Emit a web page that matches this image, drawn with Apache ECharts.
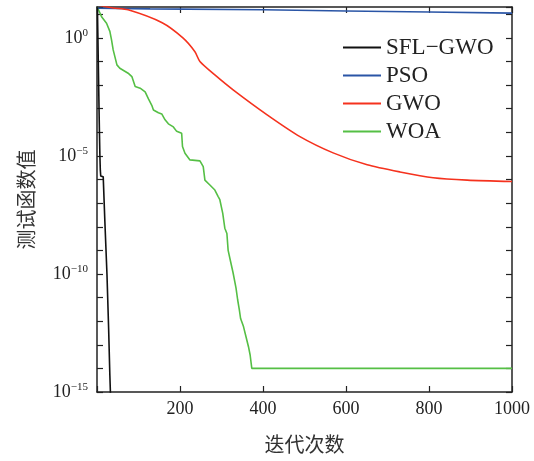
<!DOCTYPE html>
<html><head><meta charset="utf-8">
<script src="https://cdn.jsdelivr.net/npm/echarts@6/dist/echarts.min.js"></script>
<style>html,body{margin:0;padding:0;background:#fff}#c{width:534px;height:461px}</style>
</head><body><div id="c"></div>
<script>
// ---- data (y is the test-function value) ----
const seriesNames = ['SFL\u2212GWO', 'PSO', 'GWO', 'WOA'];

const sflIter = [1, 2, 3, 4, 5, 6, 7, 8, 9, 15, 19, 24, 28, 31, 35, 36];
const sflVal  = [20, 1.6, 0.13, 1e-2, 8e-4, 8e-5, 1e-5, 2.5e-6, 1.4e-6, 1.3e-6, 1.6e-8, 1e-10, 5e-13, 5e-15, 4.5e-15, 1e-17];

const psoIter = [1, 128, 400, 600, 800, 1000];
const psoVal  = [18.2, 17, 15.5, 13.8, 12.6, 11.2];

const gwoIter = [1, 39, 75, 157, 207, 236, 248, 284, 328, 410, 489, 569, 651, 730, 810, 892, 1000];
const gwoVal  = [25, 18.6, 15.5, 4.4, 1, 0.26, 0.1, 0.027, 6.3e-3, 5.5e-4, 6.6e-5, 1.35e-5, 4.2e-6, 2.1e-6, 1.2e-6, 9.5e-7, 8.3e-7];

const woaIter = [1, 5, 11, 23, 31, 35, 39, 48, 55, 75, 84, 92, 104, 116, 124, 132, 136, 148, 156, 164, 172, 184, 192, 204, 206, 212, 224, 248, 256, 260, 272, 284, 292, 296, 303, 308, 313, 316, 322, 328, 335, 339, 343, 346, 353, 358, 365, 369, 373, 1000];
const woaVal  = [20, 18, 7.9, 4.2, 1.9, 0.83, 0.31, 0.072, 0.052, 0.032, 0.023, 8.7e-3, 7.4e-3, 5.2e-3, 2.6e-3, 1.4e-3, 8.9e-4, 6.8e-4, 6.0e-4, 3.4e-4, 2.3e-4, 1.7e-4, 1.1e-4, 9.1e-5, 2.5e-5, 1.3e-5, 6.8e-6, 6.2e-6, 3.5e-6, 9.5e-7, 5.9e-7, 3.6e-7, 1.9e-7, 1.4e-7, 3.7e-8, 8.7e-9, 5.2e-9, 1.0e-9, 3.3e-10, 1.1e-10, 2.5e-11, 7.9e-12, 3.0e-12, 1.3e-12, 5.9e-13, 2.6e-13, 8.3e-14, 3.7e-14, 1.0e-14, 1.0e-14];

const xTickValues = [200, 400, 600, 800, 1000];
const yLabelExponents = [0, -5, -10, -15];
const yMinExp = -15, yMaxExp = 1.31;

const colors = ['#111111', '#2a55a6', '#f5321e', '#55bf45'];

// ---- build ----
const serif = 'Liberation Serif, Times New Roman, serif';
const cjk = 'Noto Sans CJK SC, sans-serif';
const toPts = (xs, vs) => xs.map((x, i) => [x, Math.log10(vs[i])]);
const allData = [toPts(sflIter, sflVal), toPts(psoIter, psoVal), toPts(gwoIter, gwoVal), toPts(woaIter, woaVal)];

const axisLineStyle = { color: '#222', width: 1.5 };
const tickStyle = { color: '#222', width: 1.2 };

const chart = echarts.init(document.getElementById('c'), null, { renderer: 'canvas' });
chart.setOption({
  animation: false,
  backgroundColor: '#fff',
  grid: { left: 97, right: 22, top: 7, bottom: 69, containLabel: false },
  legend: {
    orient: 'vertical', left: 338, top: 31,
    icon: 'rect', itemWidth: 38, itemHeight: 2, itemGap: 5,
    textStyle: { fontFamily: serif, fontSize: 23, lineHeight: 22, color: '#222' },
    data: seriesNames
  },
  xAxis: [{
    type: 'value', min: 0, max: 1000, interval: 200, position: 'bottom',
    axisLine: { show: true, onZero: false, lineStyle: axisLineStyle },
    axisTick: { show: true, inside: true, length: 6, lineStyle: tickStyle },
    axisLabel: { formatter: v => (xTickValues.indexOf(v) >= 0 ? String(v) : ''), fontFamily: serif, fontSize: 18, color: '#222', margin: 8 },
    splitLine: { show: false },
    name: '迭代次数', nameLocation: 'middle', nameGap: 42,
    nameTextStyle: { fontFamily: cjk, fontSize: 20, color: '#333' }
  }, {
    type: 'value', min: 0, max: 1000, interval: 200, position: 'top',
    axisLine: { show: true, onZero: false, lineStyle: axisLineStyle },
    axisTick: { show: true, inside: true, length: 6, lineStyle: tickStyle },
    axisLabel: { show: false }, splitLine: { show: false }
  }],
  yAxis: [{
    type: 'value', min: yMinExp, max: yMaxExp, interval: 1, position: 'left',
    axisLine: { show: true, onZero: false, lineStyle: axisLineStyle },
    axisTick: { show: true, inside: true, length: 6, lineStyle: tickStyle },
    axisLabel: {
      margin: 9,
      formatter: v => {
        const e = Math.round(v);
        if (Math.abs(v - e) > 1e-6 || yLabelExponents.indexOf(e) < 0) return '';
        return '{b|10}{s|' + (e === 0 ? '0' : '\u2212' + Math.abs(e)) + '}';
      },
      rich: {
        b: { fontFamily: serif, fontSize: 18, color: '#222' },
        s: { fontFamily: serif, fontSize: 11, color: '#222', padding: [0, 0, 9, 0] }
      }
    },
    splitLine: { show: false },
    name: '测试函数值', nameLocation: 'middle', nameGap: 61,
    nameTextStyle: { fontFamily: cjk, fontSize: 20, color: '#333' }
  }, {
    type: 'value', min: yMinExp, max: yMaxExp, interval: 1, position: 'right',
    axisLine: { show: true, onZero: false, lineStyle: axisLineStyle },
    axisTick: { show: true, inside: true, length: 6, lineStyle: tickStyle },
    axisLabel: { show: false }, splitLine: { show: false }
  }],
  series: seriesNames.map((n, i) => ({
    name: n, type: 'line', data: allData[i], xAxisIndex: 0, yAxisIndex: 0,
    symbol: 'none', showSymbol: false, clip: true,
    smooth: i === 2 ? 0.25 : false,
    lineStyle: { color: colors[i], width: 1.6 }, itemStyle: { color: colors[i] },
    z: [5, 3, 4, 2][i]
  }))
});
</script>
</body></html>
